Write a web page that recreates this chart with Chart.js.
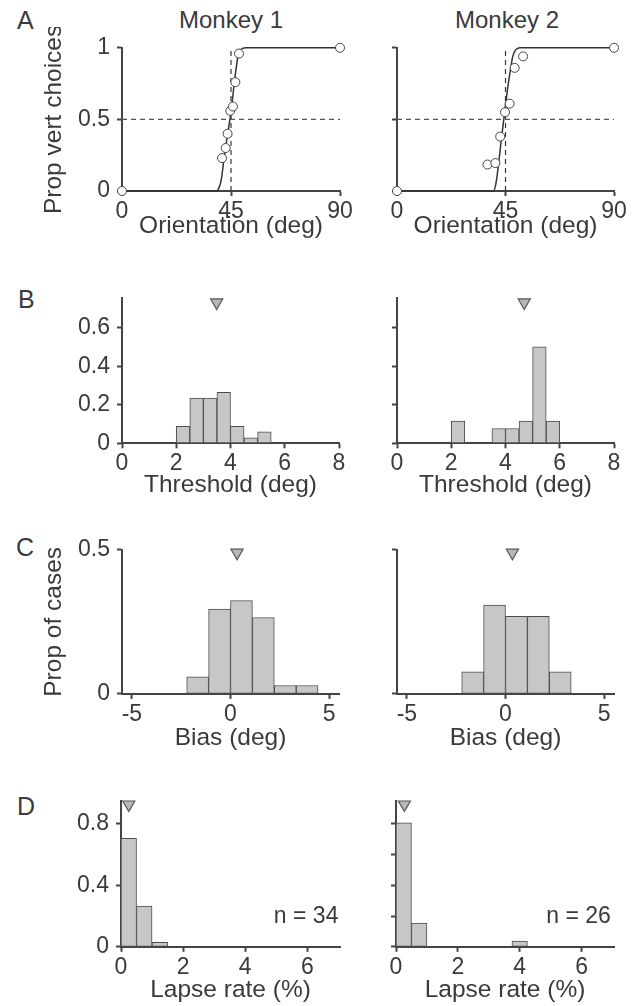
<!DOCTYPE html>
<html>
<head>
<meta charset="utf-8">
<script src="https://cdn.jsdelivr.net/npm/chart.js@4.4.1/dist/chart.umd.min.js"></script>
<style>
  body { margin: 0; background: #fff; }
  #fig { position: relative; width: 634px; height: 1006px; overflow: hidden;
         font-family: "Liberation Sans", Arial, sans-serif; color: #3a3a3a; }
  #fig canvas { position: absolute; }
  .lbl { position: absolute; white-space: nowrap; }
  .letter { font-size: 25px; line-height: 25px; }
  .monkey { font-size: 24px; line-height: 24px; width: 200px; text-align: center; }
</style>
</head>
<body>
<div id="fig">
  <div class="lbl letter" style="left:17px; top:8px">A</div>
  <div class="lbl letter" style="left:18px; top:287px">B</div>
  <div class="lbl letter" style="left:16px; top:535px">C</div>
  <div class="lbl letter" style="left:17px; top:794px">D</div>
  <div class="lbl monkey" style="left:131px; top:8px">Monkey 1</div>
  <div class="lbl monkey" style="left:407px; top:8px">Monkey 2</div>
</div>
<script>
var FONT = '"Liberation Sans", Arial, sans-serif';
var TXT = '#3a3a3a';
var AX = '#444444';
var BAR_FILL = '#c6c7c9';
var BAR_EDGE = '#4d4d4d';

// A: psychometric curves (orientation in deg, proportion vertical choices)
var orientTicks = [0, 45, 90];
var propTicks = [0, 0.5, 1];
var m1Orient = [0, 41.3, 42.8, 43.6, 44.7, 45.8, 46.8, 48.3, 90];
var m1Prop = [0, 0.23, 0.30, 0.40, 0.56, 0.59, 0.76, 0.96, 1];
var m1FitOrient = [0, 39, 40, 41, 42, 43, 44, 45, 46, 47, 48, 49, 50, 51, 90];
var m1FitProp = [0, 0, 0.02, 0.08, 0.21, 0.33, 0.44, 0.55, 0.70, 0.84, 0.95, 0.985, 0.997, 1, 1];
var m2Orient = [0, 37.5, 40.8, 42.8, 44.8, 46.7, 48.8, 52.3, 90];
var m2Prop = [0, 0.185, 0.195, 0.38, 0.55, 0.61, 0.86, 0.94, 1];
var m2FitOrient = [0, 40, 41, 42, 43, 44, 45, 46, 47, 48, 49, 50, 51, 90];
var m2FitProp = [0, 0, 0.05, 0.17, 0.32, 0.46, 0.60, 0.73, 0.84, 0.94, 0.98, 0.995, 1, 1];

// B: threshold histograms (bin centres, proportion of cases)
var thrTicks = [0, 2, 4, 6, 8];
var thrPropTicks = [0, 0.2, 0.4, 0.6];
var thrBins1 = [2.25, 2.75, 3.25, 3.75, 4.25, 4.75, 5.25];
var thrProp1 = [0.088, 0.235, 0.235, 0.265, 0.088, 0.029, 0.059];
var thrBins2 = [2.25, 3.75, 4.25, 4.75, 5.25, 5.75];
var thrProp2 = [0.115, 0.077, 0.077, 0.115, 0.5, 0.115];
var thrMean = [3.49, 4.69];

// C: bias histograms
var biasTicks = [-5, 0, 5];
var biasPropTicks = [0, 0.5];
var biasBins1 = [-1.665, -0.555, 0.555, 1.665, 2.775, 3.885];
var biasProp1 = [0.059, 0.294, 0.324, 0.265, 0.029, 0.029];
var biasBins2 = [-1.665, -0.555, 0.555, 1.665, 2.775];
var biasProp2 = [0.077, 0.308, 0.269, 0.269, 0.077];
var biasMean = [0.33, 0.35];

// D: lapse rate histograms
var lapseTicks = [0, 2, 4, 6];
var lapsePropTicks1 = [0, 0.4, 0.8];
var lapsePropTicks2 = [0, 0.2, 0.4, 0.6, 0.8];
var lapseBins1 = [0.25, 0.75, 1.25];
var lapseProp1 = [0.706, 0.265, 0.029];
var lapseBins2 = [0.25, 0.75, 4.0];
var lapseProp2 = [0.808, 0.154, 0.038];
var lapseMean = [0.25, 0.27];
var nCases = [34, 26];

function pts(xs, ys) {
  return xs.map(function (x, i) { return { x: x, y: ys[i] }; });
}

var notePlugin = {
  id: 'note',
  afterDatasetsDraw: function (chart, args, opts) {
    if (!opts || !opts.text) return;
    var ctx = chart.ctx;
    ctx.save();
    ctx.font = '23px ' + FONT;
    ctx.fillStyle = TXT;
    ctx.textAlign = 'right';
    ctx.textBaseline = 'middle';
    ctx.fillText(opts.text, chart.scales.x.getPixelForValue(opts.x), chart.scales.y.getPixelForValue(opts.y));
    ctx.restore();
  }
};

function scaleX(min, max, ticks, title, xH) {
  return {
    type: 'linear', min: min, max: max, bounds: 'data', offset: false,
    afterBuildTicks: function (s) { s.ticks = ticks.map(function (v) { return { value: v }; }); },
    afterFit: function (s) { s.height = xH; },
    ticks: { autoSkip: false, maxRotation: 0, padding: 2, color: TXT,
             font: { size: 23, family: FONT }, callback: function (v) { return String(v); } },
    grid: { drawOnChartArea: false, drawTicks: true, tickLength: 5, tickWidth: 2, tickColor: AX, offset: false },
    border: { color: AX, width: 2 },
    title: { display: !!title, text: title, color: TXT, font: { size: 24.5, family: FONT }, padding: 0 }
  };
}

function scaleY(max, ticks, showLabels, title) {
  return {
    type: 'linear', min: 0, max: max, bounds: 'data',
    afterBuildTicks: function (s) { s.ticks = ticks.map(function (v) { return { value: v }; }); },
    afterFit: function (s) { s.width = 82; },
    ticks: { autoSkip: false, padding: 7, color: TXT, font: { size: 23, family: FONT },
             callback: function (v) { return showLabels ? String(v) : ''; } },
    grid: { drawOnChartArea: false, drawTicks: true, tickLength: 5, tickWidth: 2, tickColor: AX },
    border: { color: AX, width: 2 },
    title: { display: !!title, text: title, color: TXT, font: { size: 24.5, family: FONT }, padding: 0 }
  };
}

function makeChart(box, cfg) {
  var padT = 20, padR = 26, yW = 82;
  var w = yW + (box.R - box.L) + padR;
  var h = Math.round(padT + (box.B - box.T) + box.xH);
  var c = document.createElement('canvas');
  c.width = w; c.height = h;
  c.style.width = w + 'px'; c.style.height = h + 'px';
  c.style.left = (box.L - yW) + 'px';
  c.style.top = (box.T - padT) + 'px';
  document.getElementById('fig').appendChild(c);
  cfg.options.responsive = false;
  cfg.options.animation = false;
  cfg.options.events = [];
  cfg.options.layout = { padding: { top: padT, right: padR, left: 0, bottom: 0 } };
  cfg.options.plugins = Object.assign({ legend: { display: false }, tooltip: { enabled: false } }, cfg.options.plugins || {});
  cfg.plugins = [notePlugin];
  return new Chart(c.getContext('2d'), cfg);
}

function psychPanel(box, ox, oy, fx, fy, showY) {
  makeChart(box, {
    type: 'scatter',
    data: {
      datasets: [
        { type: 'scatter', data: pts(ox, oy), pointStyle: 'circle', pointRadius: 4.5,
          backgroundColor: '#ffffff', borderColor: '#444', borderWidth: 1, clip: false, order: 0 },
        { type: 'line', data: pts(fx, fy), borderColor: '#333', borderWidth: 1.5, pointRadius: 0,
          cubicInterpolationMode: 'monotone', fill: false, clip: false, order: 1 },
        { type: 'line', data: pts([orientTicks[0], orientTicks[2]], [propTicks[1], propTicks[1]]),
          borderColor: '#555', borderWidth: 1.2, borderDash: [5, 4], pointRadius: 0, fill: false, order: 2 },
        { type: 'line', data: pts([orientTicks[1], orientTicks[1]], [propTicks[0], propTicks[2]]),
          borderColor: '#333', borderWidth: 1.2, borderDash: [5, 4], pointRadius: 0, fill: false, order: 2 }
      ]
    },
    options: {
      scales: {
        x: scaleX(0, 90, orientTicks, 'Orientation (deg)', box.xH),
        y: scaleY(1, propTicks, showY, showY ? 'Prop vert choices' : '')
      }
    }
  });
}

function histPanel(box, bins, props, xr, xTicks, xTitle, yMax, yTicks, showY, yTitle, mean, meanY, note) {
  makeChart(box, {
    type: 'bar',
    data: {
      datasets: [
        { type: 'scatter', data: [{ x: mean, y: meanY }], pointStyle: 'triangle', rotation: 180,
          pointRadius: 7, backgroundColor: '#b6b7b9', borderColor: '#555', borderWidth: 1.2, clip: false, order: 0 },
        { type: 'bar', data: pts(bins, props), backgroundColor: BAR_FILL, borderColor: BAR_EDGE,
          borderWidth: 1, borderSkipped: false, barPercentage: 1, categoryPercentage: 1, order: 1 }
      ]
    },
    options: {
      scales: {
        x: scaleX(xr[0], xr[1], xTicks, xTitle, box.xH),
        y: scaleY(yMax, yTicks, showY, yTitle)
      },
      plugins: { note: note || {} }
    }
  });
}

// A
psychPanel({ L: 122, R: 340, T: 47, B: 191, xH: 50 }, m1Orient, m1Prop, m1FitOrient, m1FitProp, true);
psychPanel({ L: 397, R: 614, T: 47, B: 191, xH: 50 }, m2Orient, m2Prop, m2FitOrient, m2FitProp, false);

// B
histPanel({ L: 122, R: 339, T: 297, B: 443, xH: 56.7 }, thrBins1, thrProp1, [0, 8], thrTicks, 'Threshold (deg)',
  0.755, thrPropTicks, true, '', thrMean[0], 0.731);
histPanel({ L: 397, R: 614, T: 297, B: 443, xH: 56.7 }, thrBins2, thrProp2, [0, 8], thrTicks, 'Threshold (deg)',
  0.755, thrPropTicks, false, '', thrMean[1], 0.731);

// C
histPanel({ L: 122, R: 339, T: 549, B: 694, xH: 59.1 }, biasBins1, biasProp1, [-5.5, 5.5], biasTicks, 'Bias (deg)',
  0.5, biasPropTicks, true, 'Prop of cases', biasMean[0], 0.49);
histPanel({ L: 397, R: 614, T: 549, B: 694, xH: 59.1 }, biasBins2, biasProp2, [-5.5, 5.5], biasTicks, 'Bias (deg)',
  0.5, biasPropTicks, false, '', biasMean[1], 0.49);

// D
histPanel({ L: 121, R: 340, T: 800, B: 947, xH: 58.2 }, lapseBins1, lapseProp1, [0, 7.05], lapseTicks, 'Lapse rate (%)',
  0.951, lapsePropTicks1, true, '', lapseMean[0], 0.927, { text: 'n = ' + nCases[0], x: 7.0, y: 0.197 });
histPanel({ L: 396, R: 614, T: 800, B: 947, xH: 58.2 }, lapseBins2, lapseProp2, [0, 7.05], lapseTicks, 'Lapse rate (%)',
  0.951, lapsePropTicks2, false, '', lapseMean[1], 0.927, { text: 'n = ' + nCases[1], x: 6.95, y: 0.197 });
</script>
</body>
</html>
